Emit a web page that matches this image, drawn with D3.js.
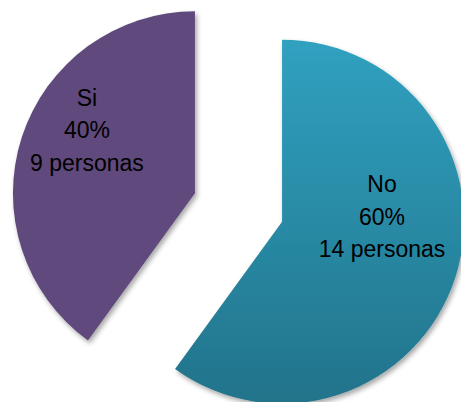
<!DOCTYPE html>
<html>
<head>
<meta charset="utf-8">
<script src="https://cdn.jsdelivr.net/npm/d3@7"></script>
<style>
  body { margin: 0; background: #fff; }
  svg { display: block; }
</style>
</head>
<body>
<div id="graph"></div>
<script>
// data
const categories = ['No', 'Si'];
const percents = [60, 40];
const people = [14, 9];
const colors = ['url(#tealGrad)', '#604A7B'];

// layout
const svgWidth = 461;
const svgHeight = 402;
const center = { x: 238.5, y: 207.5 };
const radius = 182;
const explode = 45.8;
// label position relative to each exploded slice centre (middle line baseline)
const labelOffsets = [[100, 3], [-108, -55]];
const lineGap = 32.5;

const svg = d3.select('#graph')
  .append('svg')
  .attr('width', svgWidth)
  .attr('height', svgHeight);

const defs = svg.append('defs');
const grad = defs.append('linearGradient')
  .attr('id', 'tealGrad')
  .attr('gradientUnits', 'userSpaceOnUse')
  .attr('x1', 0).attr('y1', -radius)
  .attr('x2', 0).attr('y2', radius);
grad.append('stop').attr('offset', '0%').attr('stop-color', '#30A1C0');
grad.append('stop').attr('offset', '100%').attr('stop-color', '#22738A');

const shadow = defs.append('filter')
  .attr('id', 'shadow')
  .attr('x', '-10%').attr('y', '-10%')
  .attr('width', '130%').attr('height', '130%');
shadow.append('feDropShadow')
  .attr('dx', 2).attr('dy', 3)
  .attr('stdDeviation', 2.5)
  .attr('flood-color', '#000')
  .attr('flood-opacity', 0.35);

const pie = d3.pie().sort(null).value(d => d)(percents);
const arc = d3.arc().innerRadius(0).outerRadius(radius);

const slices = svg.append('g').attr('class', 'slices')
  .selectAll('g')
  .data(pie)
  .join('g')
  .attr('transform', d => {
    const a = (d.startAngle + d.endAngle) / 2;
    const x = center.x + Math.sin(a) * explode;
    const y = center.y - Math.cos(a) * explode;
    return `translate(${x}, ${y})`;
  });

slices.append('path')
  .attr('d', arc)
  .attr('fill', (d, i) => colors[i])
  .attr('filter', 'url(#shadow)');

const labels = slices.append('text')
  .attr('font-family', 'Liberation Sans, Arial, sans-serif')
  .attr('font-size', 23)
  .attr('fill', '#000')
  .attr('text-anchor', 'middle');

labels.each(function (d, i) {
  const t = d3.select(this);
  const [ox, oy] = labelOffsets[i];
  const lines = [categories[i], percents[i] + '%', people[i] + ' personas'];
  lines.forEach((s, k) => {
    t.append('tspan')
      .attr('x', ox)
      .attr('y', oy + (k - 1) * lineGap)
      .text(s);
  });
});
</script>
</body>
</html>
